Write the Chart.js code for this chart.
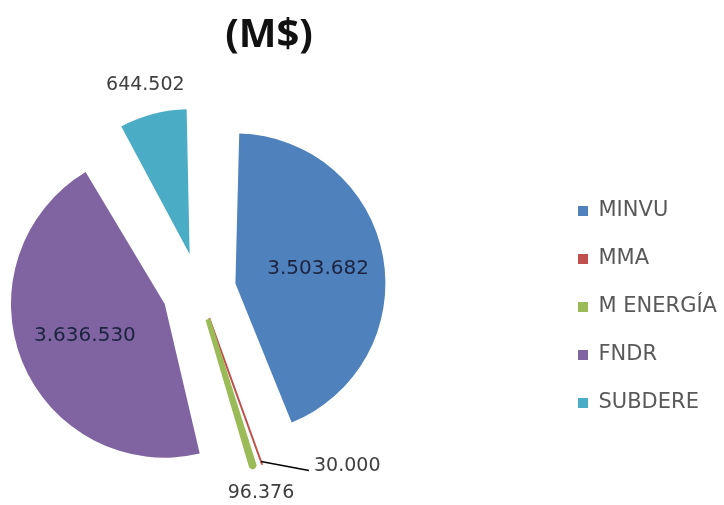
<!DOCTYPE html>
<html>
<head>
<meta charset="utf-8">
<title>(M$)</title>
<script src="https://cdn.jsdelivr.net/npm/chart.js@4.4.1/dist/chart.umd.min.js"></script>
<style>
  html, body { margin: 0; padding: 0; background: #fff; }
</style>
</head>
<body>
<canvas id="pieChart" width="724" height="505"></canvas>
<script>
// Chart data
const institutions = ['MINVU', 'MMA', 'M ENERGÍA', 'FNDR', 'SUBDERE'];
const amounts = [3503682, 30000, 96376, 3636530, 644502];
const sliceColors = ['#4F81BD', '#C0504D', '#9BBB59', '#8064A2', '#4BACC6'];
const chartTitle = '(M$)';

// 3503682 -> "3.503.682"
function formatAmount(v) {
    return String(v).replace(/\B(?=(\d{3})+(?!\d))/g, '.');
}

/**
 * Geometry of an exploded slice, same maths as ArcElement.draw
 * (the offset option is applied / 4 there)
 */
function sliceGeometry(arc) {
    const p = arc.getProps(['x', 'y', 'startAngle', 'endAngle', 'outerRadius', 'circumference'], true);
    const mid = (p.startAngle + p.endAngle) / 2;
    const shift = (arc.options.offset || 0) / 4;
    const fix = 1 - Math.sin(Math.min(Math.PI, p.circumference));
    return {
        x: p.x,
        y: p.y,
        cx: p.x + Math.cos(mid) * shift,
        cy: p.y + Math.sin(mid) * shift,
        cos: Math.cos(mid),
        sin: Math.sin(mid),
        r: p.outerRadius + shift * fix,
        base: p.outerRadius
    };
}

// Value labels: inside the slice, outside it, or outside with a leader line
const valueLabels = {
    id: 'valueLabels',
    afterDatasetsDraw(chart, args, opts) {
        const ctx = chart.ctx;
        const values = chart.data.datasets[0].data;
        ctx.save();
        ctx.textBaseline = 'middle';
        chart.getDatasetMeta(0).data.forEach((arc, i) => {
            const g = sliceGeometry(arc);
            const text = formatAmount(values[i]);
            const place = opts.placement[i];
            if (place === 'inside') {
                const d = g.r * opts.insideRatio;
                ctx.font = opts.insideFont;
                ctx.fillStyle = opts.insideColor;
                ctx.textAlign = 'center';
                ctx.fillText(text, g.cx + g.cos * d, g.cy + g.sin * d);
            } else if (place === 'outside') {
                // measured from the pie centre
                const d = g.base + opts.outsideGap;
                ctx.font = opts.outsideFont;
                ctx.fillStyle = opts.outsideColor;
                ctx.textAlign = 'center';
                ctx.fillText(text, g.x + g.cos * d, g.y + g.sin * d);
            } else {
                const tipX = g.cx + g.cos * (g.r - 3);
                const tipY = g.cy + g.sin * (g.r - 3);
                const endX = tipX + opts.leader.dx;
                const endY = tipY + opts.leader.dy;
                ctx.strokeStyle = '#000';
                ctx.lineWidth = 1.5;
                ctx.beginPath();
                ctx.moveTo(tipX, tipY);
                ctx.lineTo(endX, endY);
                ctx.stroke();
                ctx.font = opts.outsideFont;
                ctx.fillStyle = opts.outsideColor;
                ctx.textAlign = 'left';
                ctx.fillText(text, endX + 5, endY - 4);
            }
        });
        ctx.restore();
    }
};

// Move the legend to the far right, like the Excel layout
const legendPlacement = {
    id: 'legendPlacement',
    afterLayout(chart, args, opts) {
        const lg = chart.legend;
        if (!lg) return;
        const pad = opts.padding;
        lg.left = opts.boxX - pad;
        lg.right = chart.width;
        lg.width = lg.right - lg.left;
        lg.top = opts.firstRowY - pad - opts.fontSize / 2;
        lg.bottom = chart.height;
        lg.height = lg.bottom - lg.top;
    }
};

const LEGEND_FONT = 21;
const LEGEND_PAD = 27;

const pieChart = new Chart(document.getElementById('pieChart'), {
    type: 'pie',
    data: {
        labels: institutions,
        datasets: [{
            data: amounts,
            backgroundColor: sliceColors,
            // the two slivers collapse when exploded, a same-colour edge keeps them visible
            borderColor: sliceColors,
            borderWidth: [0, 2, 5, 0, 0],
            offset: [148, 120, 122, 148, 148],
            hoverOffset: 0,
            radius: 126
        }]
    },
    options: {
        responsive: false,
        animation: false,
        events: [],
        layout: {
            padding: { left: 0, right: 186, top: 0, bottom: 0 }
        },
        plugins: {
            title: {
                display: true,
                text: chartTitle,
                color: '#111',
                font: { family: 'Open Sans', size: 40, weight: 'bold' },
                padding: { top: 12, bottom: 15 }
            },
            legend: {
                position: 'right',
                align: 'start',
                maxWidth: 140,
                labels: {
                    boxWidth: 10,
                    boxHeight: 10,
                    padding: LEGEND_PAD,
                    color: '#595959',
                    font: { family: 'DejaVu Sans', size: LEGEND_FONT },
                    // plain square markers, without the slivers' edge width
                    generateLabels(chart) {
                        const base = Chart.overrides.doughnut.plugins.legend.labels.generateLabels(chart);
                        return base.map(item => Object.assign(item, { lineWidth: 0 }));
                    }
                }
            },
            tooltip: { enabled: false },
            legendPlacement: {
                boxX: 578,
                firstRowY: 211,
                padding: LEGEND_PAD,
                fontSize: LEGEND_FONT
            },
            valueLabels: {
                placement: ['inside', 'leader', 'outside', 'inside', 'outside'],
                insideRatio: 0.56,
                insideFont: '20px "DejaVu Sans"',
                insideColor: '#1c2340',
                outsideGap: 86,
                outsideFont: '19px "DejaVu Sans"',
                outsideColor: '#404040',
                leader: { dx: 48, dy: 9 }
            }
        }
    },
    plugins: [legendPlacement, valueLabels]
});
</script>
</body>
</html>
